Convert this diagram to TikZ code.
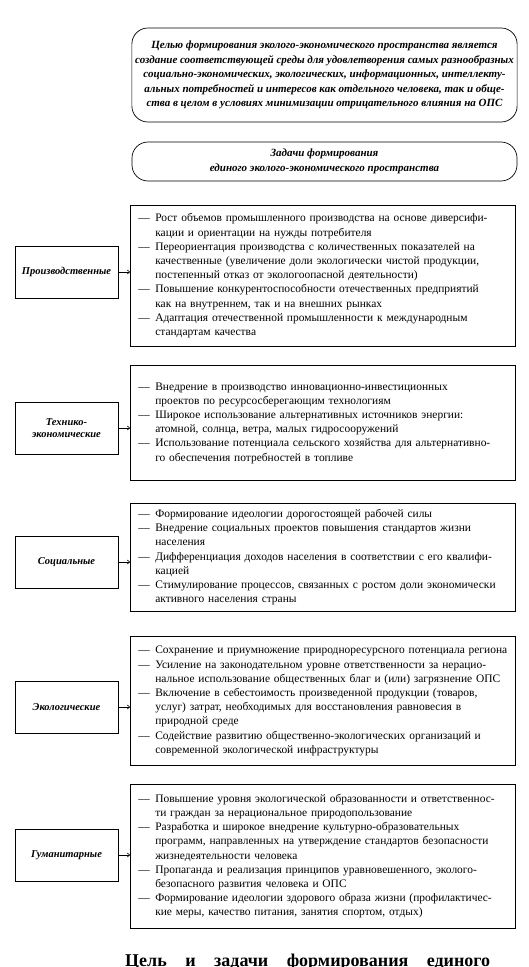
\documentclass[tikz,border=0pt]{standalone}
\usepackage{graphicx}
\usepackage{fontspec}
\setmainfont{Liberation Serif}
\usetikzlibrary{arrows.meta}
\newcommand{\dashrow}[1]{\textemdash & #1\\}
\newcommand{\controw}[1]{& #1\\}
\newenvironment{itemtab}{\begin{tabular}{@{}p{13pt}@{\hspace{4pt}}l@{}}}{\end{tabular}}
\tikzset{
  lbox/.style={draw, line width=0.6pt, minimum width=103pt, minimum height=52pt,
    font=\fontsize{10.5}{12.5}\selectfont\bfseries\itshape, align=center, inner sep=2pt},
  listbox/.style={draw, line width=0.6pt, anchor=north west, text width=369pt,
    inner xsep=8pt, inner ysep=0pt, align=left, font=\fontsize{11.45}{14.2}\selectfont},
  rbox/.style={draw, line width=0.7pt, rounded corners=16pt, minimum width=385pt,
    align=center, font=\fontsize{11}{14.4}\selectfont\bfseries\itshape},
  arr/.style={-{To[length=3pt,width=4.5pt]}, line width=0.6pt}
}
\begin{document}
\begin{tikzpicture}[x=1pt,y=-1pt]
\path[use as bounding box] (0,0) rectangle (529,967);
\fill[white] (0,0) rectangle (529,967);
\clip (0,0) rectangle (529,967);

\node[rbox, minimum height=94pt] (goal) at (324.5,75) {Целью формирования эколого-экономического пространства является\\
создание соответствующей среды для удовлетворения самых разнообразных\\
социально-экономических, экологических, информационных, интеллекту-\\
альных потребностей и интересов как отдельного человека, так и обще-\\
ства в целом в условиях минимизации отрицательного влияния на ОПС};

\node[rbox, minimum height=39pt] (tasks) at (324.5,161.5) {Задачи формирования\\единого эколого-экономического пространства};

\node[listbox, minimum height=141pt] (b1) at (130,205) {\begin{itemtab}
\dashrow{Рост объемов промышленного производства на основе диверсифи-}
\controw{кации и ориентации на нужды потребителя}
\dashrow{Переориентация производства с количественных показателей на}
\controw{качественные (увеличение доли экологически чистой продукции,}
\controw{постепенный отказ от экологоопасной деятельности)}
\dashrow{Повышение конкурентоспособности отечественных предприятий}
\controw{как на внутреннем, так и на внешних рынках}
\dashrow{Адаптация отечественной промышленности к международным}
\controw{стандартам качества}
\end{itemtab}};

\node[listbox, minimum height=115pt] (b2) at (130,365) {\begin{itemtab}
\dashrow{Внедрение в производство инновационно-инвестиционных}
\controw{проектов по ресурсосберегающим технологиям}
\dashrow{Широкое использование альтернативных источников энергии:}
\controw{атомной, солнца, ветра, малых гидросооружений}
\dashrow{Использование потенциала сельского хозяйства для альтернативно-}
\controw{го обеспечения потребностей в топливе}
\end{itemtab}};

\node[listbox, minimum height=108pt] (b3) at (130,503) {\begin{itemtab}
\dashrow{Формирование идеологии дорогостоящей рабочей силы}
\dashrow{Внедрение социальных проектов повышения стандартов жизни}
\controw{населения}
\dashrow{Дифференциация доходов населения в соответствии с его квалифи-}
\controw{кацией}
\dashrow{Стимулирование процессов, связанных с ростом доли экономически}
\controw{активного населения страны}
\end{itemtab}};

\node[listbox, minimum height=129pt] (b4) at (130,636) {\begin{itemtab}
\dashrow{Сохранение и приумножение природноресурсного потенциала региона}
\dashrow{Усиление на законодательном уровне ответственности за нерацио-}
\controw{нальное использование общественных благ и (или) загрязнение ОПС}
\dashrow{Включение в себестоимость произведенной продукции (товаров,}
\controw{услуг) затрат, необходимых для восстановления равновесия в}
\controw{природной среде}
\dashrow{Содействие развитию общественно-экологических организаций и}
\controw{современной экологической инфраструктуры}
\end{itemtab}};

\node[listbox, minimum height=144pt] (b5) at (130,784) {\begin{itemtab}
\dashrow{Повышение уровня экологической образованности и ответственнос-}
\controw{ти граждан за нерациональное природопользование}
\dashrow{Разработка и широкое внедрение культурно-образовательных}
\controw{программ, направленных на утверждение стандартов безопасности}
\controw{жизнедеятельности человека}
\dashrow{Пропаганда и реализация принципов уравновешенного, эколого-}
\controw{безопасного развития человека и ОПС}
\dashrow{Формирование идеологии здорового образа жизни (профилактичес-}
\controw{кие меры, качество питания, занятия спортом, отдых)}
\end{itemtab}};

\node[lbox] (l1) at (66.5,272) {Производственные};
\node[lbox] (l2) at (66.5,428) {Технико-\\экономические};
\node[lbox] (l3) at (66.5,562) {Социальные};
\node[lbox] (l4) at (66.5,707) {Экологические};
\node[lbox] (l5) at (66.5,855) {Гуманитарные};

\foreach \i in {1,...,5}{
  \draw[arr] (l\i.east) -- (l\i.east -| b\i.west);
}

\node[anchor=base west, inner sep=0pt, font=\fontsize{18}{20}\selectfont\bfseries] (cap) at (125,966)
  {\hbox to 365pt{Цель\hfill и\hfill задачи\hfill формирования\hfill единого}};
\end{tikzpicture}
\end{document}
